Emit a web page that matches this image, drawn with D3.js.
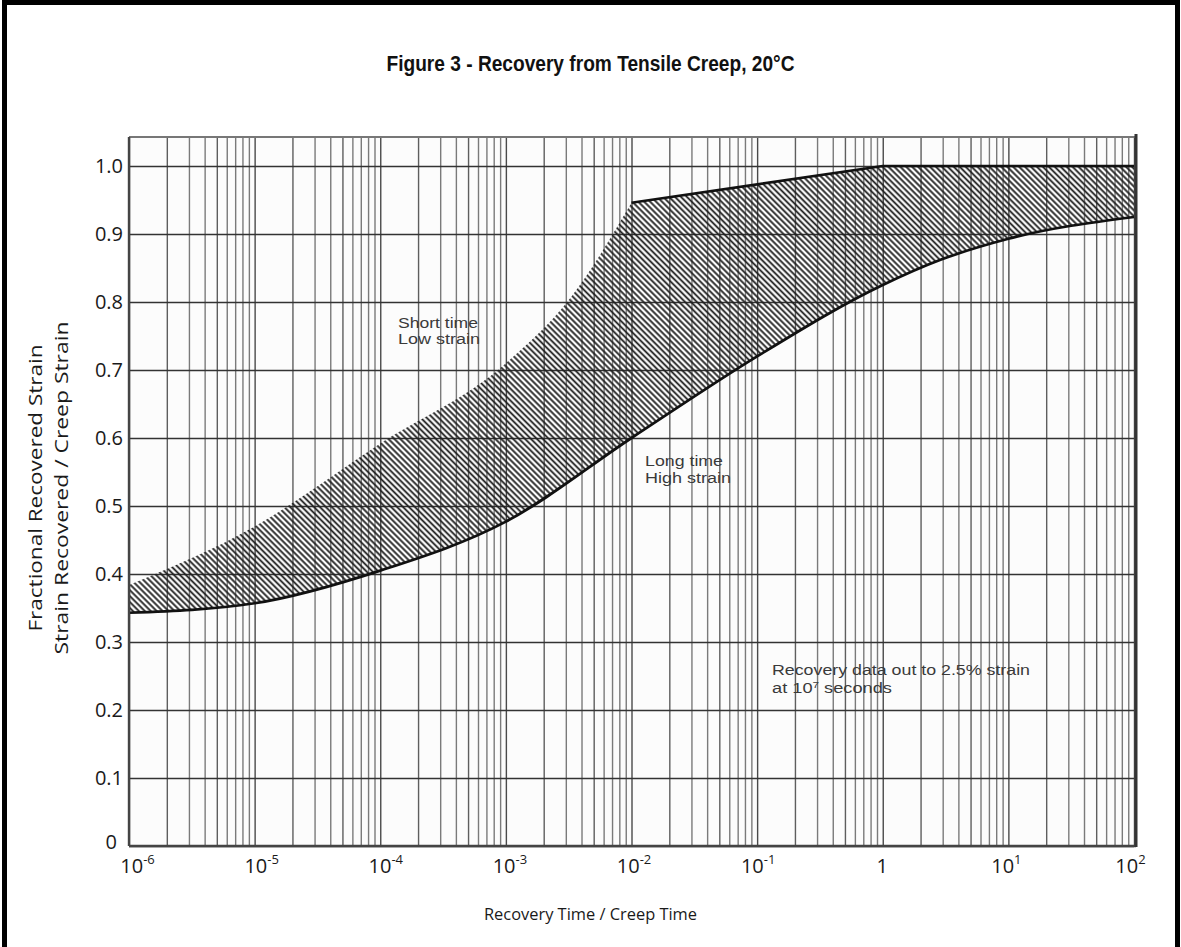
<!DOCTYPE html>
<html><head><meta charset="utf-8">
<script src="https://cdn.jsdelivr.net/npm/d3@7"></script>
<style>body{margin:0;background:#fff}svg{display:block}</style>
</head><body>
<svg id="c" width="1181" height="947"></svg>
<script>
// ---------- data ----------
const titleText = "Figure 3 - Recovery from Tensile Creep, 20°C";
const xLabel = "Recovery Time / Creep Time";
const yLabel1 = "Fractional Recovered Strain";
const yLabel2 = "Strain Recovered / Creep Strain";
const xTickExponents = [-6, -5, -4, -3, -2, -1, 0, 1, 2];
const yTickValues = [0, 0.1, 0.2, 0.3, 0.4, 0.5, 0.6, 0.7, 0.8, 0.9, 1.0];
const yTickLabels = ["0", "0.1", "0.2", "0.3", "0.4", "0.5", "0.6", "0.7", "0.8", "0.9", "1.0"];
// lower boundary (Long time / High strain), log10 of time ratio
const lowerLogT = [-6, -5, -4, -3, -2, -1, 0, 0.46, 1, 2];
const lowerV    = [0.343, 0.357, 0.405, 0.477, 0.600, 0.720, 0.825, 0.862, 0.893, 0.925];
// upper boundary, curved part (Short time / Low strain)
const upperCurveLogT = [-6, -5, -4, -3, -2.49, -2];
const upperCurveV    = [0.384, 0.470, 0.592, 0.710, 0.805, 0.946];
// upper boundary, straight part
const upperLineLogT = [-2, 0, 2];
const upperLineV    = [0.946, 1.0, 1.0];
// annotation texts ("|" marks a superscript)
const noteShort = ["Short time", "Low strain"];
const noteLong = ["Long time", "High strain"];
const noteData = ["Recovery data out to 2.5% strain", "at 10|7| seconds"];

// ---------- layout ----------
const W = 1181, H = 947;
const L = 129, R = 1134, B = 846, T1 = 166, TOP = 137, RFRAME = 1136;
const svg = d3.select("#c");
const x = d3.scaleLog().domain([1e-6, 1e2]).range([L, R]);
const xLab = d3.scaleLog().domain([1e-6, 1e2]).range([137, 1130]);  // label placement
const y = d3.scaleLinear().domain([0, 1]).range([B, T1]);
const noteLayout = [
  {lines: noteShort, x: 398, yb: 328, widths: [80, 82], gap: 16},
  {lines: noteLong,  x: 645, yb: 466, widths: [78, 86], gap: 17},
  {lines: noteData,  x: 772, yb: 675, widths: [258, 120], gap: 18}
];

// outer border
svg.append("path")
  .attr("d", `M4.5,${H + 10} L4.5,2.5 L1177.5,2.5 L1177.5,${H + 10}`)
  .attr("fill", "none").attr("stroke", "#000").attr("stroke-width", 5);

// title
svg.append("text").attr("x", 590.5).attr("y", 71)
  .attr("text-anchor", "middle")
  .attr("font-family", "'Liberation Sans', Arial, sans-serif")
  .attr("font-weight", "bold").attr("font-size", 21.5)
  .attr("textLength", 408).attr("lengthAdjust", "spacingAndGlyphs")
  .attr("fill", "#111").text(titleText);

// plot background
svg.append("rect").attr("x", L).attr("y", TOP).attr("width", RFRAME - L).attr("height", B - TOP)
  .attr("fill", "#fcfcfc");

// vertical grid (log minor lines)
const gx = svg.append("g").attr("transform", `translate(0,${B})`)
  .call(d3.axisBottom(x).tickValues(x.ticks()).tickSize(-(B - TOP)).tickFormat(""));
gx.select(".domain").remove();
gx.selectAll(".tick line")
  .attr("stroke", d => {
    const k = Math.round(d / 10 ** Math.floor(Math.log10(d) + 1e-9));
    return k === 1 ? "#4a4a4a" : (k === 2 || k === 5) ? "#5e5e5e" : "#7a7a7a";
  })
  .attr("stroke-width", 1.4);

// horizontal grid
const gy = svg.append("g").attr("transform", `translate(${L},0)`)
  .call(d3.axisLeft(y).tickValues(yTickValues).tickSize(-(R - L)).tickFormat(""));
gy.select(".domain").remove();
gy.selectAll(".tick line").attr("stroke", "#333").attr("stroke-width", 1.7);

// hatch pattern
const defs = svg.append("defs");
const pat = defs.append("pattern").attr("id", "hatch").attr("patternUnits", "userSpaceOnUse")
  .attr("width", 4.2).attr("height", 20).attr("patternTransform", "rotate(-45)");
pat.append("line").attr("x1", 2.1).attr("y1", 0).attr("x2", 2.1).attr("y2", 20)
  .attr("stroke", "#1e1e1e").attr("stroke-width", 1.8);

const ptsLower = lowerLogT.map((t, i) => [x(10 ** t), y(lowerV[i])]);
const ptsUpperC = upperCurveLogT.map((t, i) => [x(10 ** t), y(upperCurveV[i])]);
const ptsUpperL = upperLineLogT.map((t, i) => [x(10 ** t), y(upperLineV[i])]);
const curveLine = d3.line().curve(d3.curveMonotoneX);
const straight = d3.line();
const upperPath = curveLine(ptsUpperC) + straight(ptsUpperL).replace(/^M/, "L");
const lowerPath = curveLine(ptsLower);

defs.append("clipPath").attr("id", "belowUpper").append("path")
  .attr("d", upperPath + `L${R},${B}L${L},${B}Z`);
defs.append("clipPath").attr("id", "aboveLower").append("path")
  .attr("d", lowerPath + `L${R},${TOP}L${L},${TOP}Z`);

svg.append("g").attr("clip-path", "url(#belowUpper)")
  .append("rect").attr("clip-path", "url(#aboveLower)")
  .attr("x", L).attr("y", TOP).attr("width", R - L).attr("height", B - TOP)
  .attr("fill", "url(#hatch)");

// boundary lines
svg.append("path").attr("d", lowerPath).attr("fill", "none")
  .attr("stroke", "#111").attr("stroke-width", 2.7);
svg.append("path").attr("d", straight(ptsUpperL)).attr("fill", "none")
  .attr("stroke", "#111").attr("stroke-width", 2.7);

// frame
svg.append("line").attr("x1", L).attr("x2", RFRAME).attr("y1", TOP).attr("y2", TOP)
  .attr("stroke", "#777").attr("stroke-width", 2);
svg.append("line").attr("x1", L).attr("x2", L).attr("y1", TOP).attr("y2", B)
  .attr("stroke", "#444").attr("stroke-width", 2.4);
svg.append("line").attr("x1", L).attr("x2", RFRAME).attr("y1", B).attr("y2", B)
  .attr("stroke", "#444").attr("stroke-width", 2.6);
svg.append("line").attr("x1", RFRAME).attr("x2", RFRAME).attr("y1", TOP - 3).attr("y2", B + 1)
  .attr("stroke", "#333").attr("stroke-width", 3);

// x tick labels
const fontTick = "'Open Sans', 'Noto Sans', sans-serif";
const xl = svg.append("g").attr("transform", `translate(0,${B})`)
  .call(d3.axisBottom(xLab).tickValues(xTickExponents.map(e => 10 ** e)).tickSize(0).tickFormat(""));
xl.select(".domain").remove();
xl.selectAll(".tick").each(function (d) {
  const e = Math.round(Math.log10(d));
  const t = d3.select(this).append("text").attr("y", 27).attr("fill", "#1a1a1a")
    .attr("text-anchor", "middle").attr("font-family", fontTick).attr("font-size", 20);
  if (e === 0) { t.append("tspan").text("1"); }
  else {
    t.append("tspan").text("10");
    t.append("tspan").attr("dy", -9).attr("font-size", 13).text(String(e));
  }
});

// y tick labels
const yl = svg.append("g").attr("transform", `translate(${L},0)`)
  .call(d3.axisLeft(y).tickValues(yTickValues).tickSize(0).tickPadding(6)
    .tickFormat((d, i) => yTickLabels[i]));
yl.select(".domain").remove();
yl.selectAll("text").attr("font-family", fontTick).attr("font-size", 20).attr("fill", "#1a1a1a");
yl.selectAll(".tick").filter(d => d === 0).select("text").attr("dx", -6).attr("dy", "0.1em");

// axis titles
svg.append("text").attr("x", 590.5).attr("y", 920).attr("text-anchor", "middle")
  .attr("font-family", fontTick).attr("font-size", 16.5).attr("fill", "#1a1a1a")
  .attr("textLength", 213).attr("lengthAdjust", "spacingAndGlyphs").text(xLabel);
svg.append("text").attr("transform", "translate(42,488) rotate(-90)").attr("text-anchor", "middle")
  .attr("font-family", fontTick).attr("font-size", 18).attr("fill", "#1a1a1a")
  .attr("textLength", 287).attr("lengthAdjust", "spacingAndGlyphs").text(yLabel1);
svg.append("text").attr("transform", "translate(68,488) rotate(-90)").attr("text-anchor", "middle")
  .attr("font-family", fontTick).attr("font-size", 18).attr("fill", "#1a1a1a")
  .attr("textLength", 333).attr("lengthAdjust", "spacingAndGlyphs").text(yLabel2);

// annotations
noteLayout.forEach(a => {
  const g = svg.append("g").attr("transform", `translate(${a.x},${a.yb})`);
  a.lines.forEach((ln, i) => {
    const t = g.append("text").attr("y", i * a.gap)
      .attr("font-family", "'Liberation Sans', Arial, sans-serif")
      .attr("font-size", 14).attr("fill", "#3a3a3a")
      .attr("textLength", a.widths[i]).attr("lengthAdjust", "spacingAndGlyphs");
    ln.split("|").forEach((p, j) => {
      const ts = t.append("tspan").text(p);
      if (j === 1) ts.attr("font-size", 9).attr("dy", -5);
      if (j === 2) ts.attr("dy", 5);
    });
  });
});
</script>
</body></html>
